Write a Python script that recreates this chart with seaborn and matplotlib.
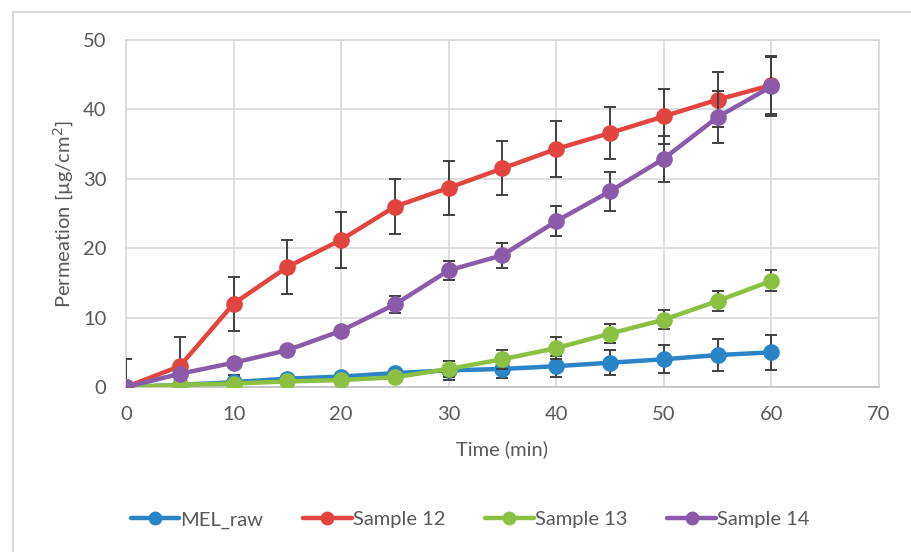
import matplotlib
matplotlib.use("Agg")
import matplotlib.pyplot as plt
import seaborn as sns
import pandas as pd
from matplotlib.lines import Line2D

time_min = [0, 5, 10, 15, 20, 25, 30, 35, 40, 45, 50, 55, 60]
series_names = ["MEL_raw", "Sample 12", "Sample 13", "Sample 14"]
mel_raw = [0, 0.3, 0.7, 1.2, 1.5, 2.0, 2.4, 2.6, 3.0, 3.5, 4.0, 4.6, 5.0]
sample12 = [0, 3.0, 12.0, 17.3, 21.2, 26.0, 28.7, 31.5, 34.3, 36.6, 39.0, 41.4, 43.5]
sample13 = [0, 0.3, 0.5, 0.8, 1.0, 1.4, 2.6, 4.0, 5.6, 7.7, 9.7, 12.4, 15.3]
sample14 = [0, 1.9, 3.5, 5.3, 8.1, 11.9, 16.8, 19.0, 23.9, 28.2, 32.9, 38.9, 43.3]
err_mel = [0, 0.3, 1.0, 0.6, 0.5, 0.6, 1.4, 1.3, 1.5, 1.8, 2.0, 2.3, 2.5]
err_s12 = [4.0, 4.2, 3.9, 3.9, 4.0, 4.0, 3.9, 3.9, 4.0, 3.8, 4.0, 4.0, 4.2]
err_s13 = [0, 0.2, 0.3, 0.3, 0.4, 0.5, 1.2, 1.4, 1.6, 1.4, 1.4, 1.4, 1.5]
err_s14 = [0, 0.3, 0.4, 0.4, 0.6, 1.2, 1.4, 1.8, 2.2, 2.8, 3.3, 3.8, 4.3]
x_ticks = [0, 10, 20, 30, 40, 50, 60, 70]
y_ticks = [0, 10, 20, 30, 40, 50]

colors = ["#2A84C6", "#E2443F", "#8BC043", "#8A5BA8"]
values = [mel_raw, sample12, sample13, sample14]
errors = [err_mel, err_s12, err_s13, err_s14]

rows = []
for name, vals in zip(series_names, values):
    for t, v in zip(time_min, vals):
        rows.append({"Time": t, "Permeation": v, "Series": name})
df = pd.DataFrame(rows)

sns.set_style("white")
plt.rcParams["font.family"] = ["Lato", "DejaVu Sans"]
txt = "#595959"
fs = 14.5

fig = plt.figure(figsize=(9.11, 5.52), dpi=100)
ax = fig.add_axes([126/911, 1-387/552, (879-126)/911, (387-40)/552])

for i, (name, vals, errs, c) in enumerate(zip(series_names, values, errors, colors)):
    ax.errorbar(time_min, vals, yerr=errs, fmt="none", ecolor="#404040",
                elinewidth=1.4, capsize=4, capthick=1.4, zorder=2 + i * 2)
    sub = df[df["Series"] == name]
    sns.lineplot(data=sub, x="Time", y="Permeation", ax=ax, color=c,
                 linewidth=3.2, marker="o", markersize=12, markeredgewidth=0,
                 zorder=3 + i * 2, legend=False)

ax.set_xlim(0, 70)
ax.set_ylim(0, 50)
ax.set_xticks(x_ticks)
ax.set_yticks(y_ticks)
ax.grid(True, color="#D9D9D9", linewidth=1.2)
ax.set_axisbelow(True)
for s in ax.spines.values():
    s.set_color("#D9D9D9")
    s.set_linewidth(1.2)
ax.spines["bottom"].set_color("#BFBFBF")
ax.tick_params(axis="x", length=0, labelsize=fs, labelcolor=txt, pad=14)
ax.tick_params(axis="y", length=0, labelsize=fs, labelcolor=txt, pad=14)
ax.set_xlabel("Time (min)", fontsize=fs, color=txt, labelpad=12)
ax.set_ylabel("Permeation [µg/cm$^2$]", fontsize=fs, color=txt, labelpad=5)
for lab in ax.get_xticklabels() + ax.get_yticklabels():
    lab.set_clip_on(False)

handles = [Line2D([0], [0], color=c, lw=3.2, marker="o", markersize=10,
                  markeredgewidth=0) for c in colors]
leg = fig.legend(handles, series_names, loc="center", bbox_to_anchor=(470/911, 1-520/552),
                 ncol=4, frameon=False, fontsize=fs, handlelength=2.4,
                 handletextpad=0.05, columnspacing=2.0)
for t in leg.get_texts():
    t.set_color(txt)

border = Line2D([13/911, 13/911, 1.0], [0.0, 1-12/552, 1-12/552],
                transform=fig.transFigure, color="#D9D9D9", lw=1.5)
fig.add_artist(border)

fig.savefig("out.png", dpi=100, facecolor="white")
